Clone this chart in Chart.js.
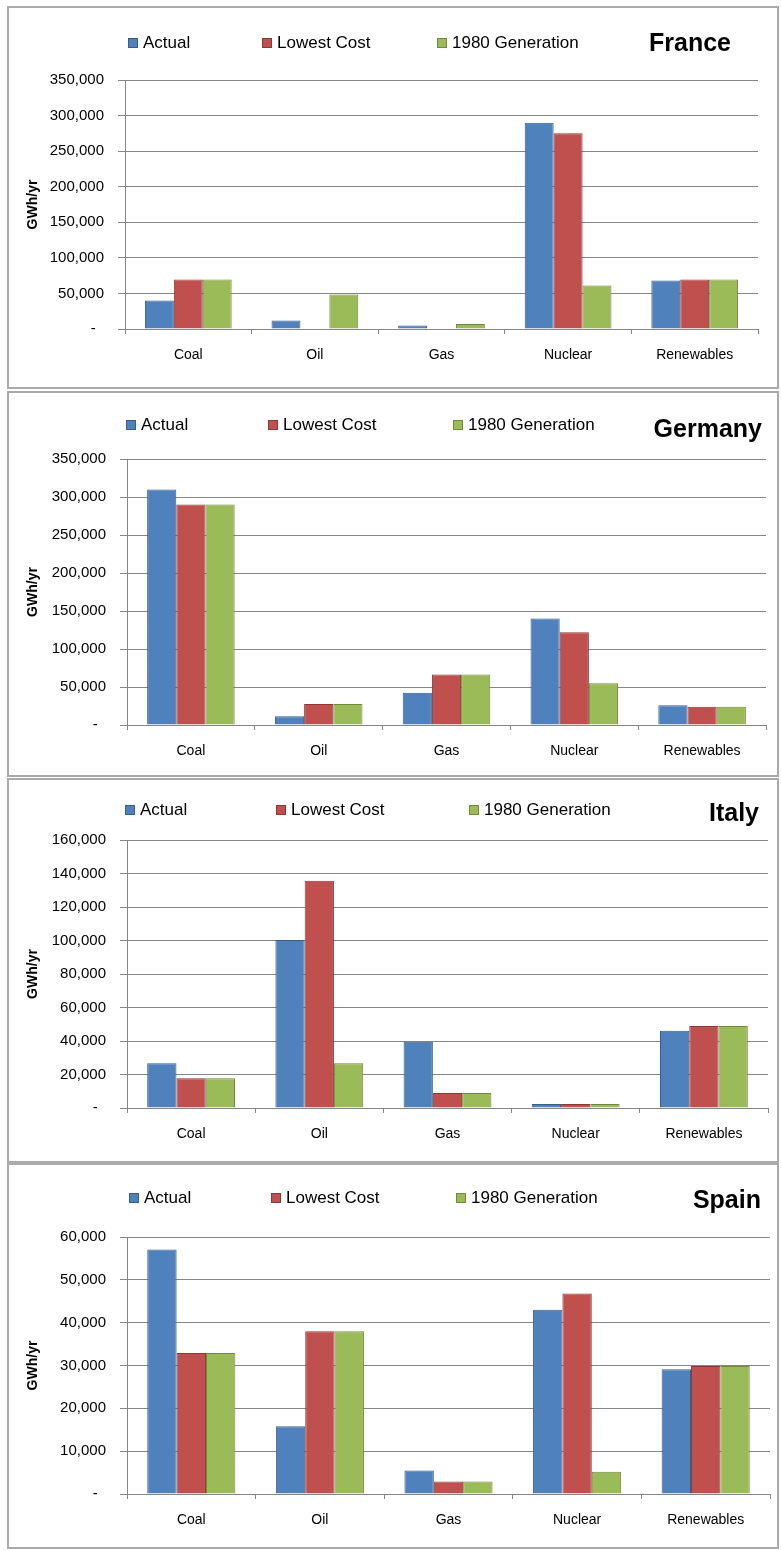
<!DOCTYPE html>
<html>
<head>
<meta charset="utf-8">
<script src="https://cdn.jsdelivr.net/npm/chart.js@4.4.1/dist/chart.umd.min.js"></script>
<style>
  html, body { margin: 0; padding: 0; background: #ffffff; overflow: hidden; }
  body { position: relative; width: 781px; height: 1551px; font-family: "Liberation Sans", Arial, sans-serif; }
  .panel { position: absolute; left: 7px; width: 772px; box-sizing: border-box; border: 2px solid #aaaaaa; background: #ffffff; }
  canvas.chart { position: absolute; }
  .legend-item { position: absolute; display: flex; align-items: center; transform: translateY(-50%); font-size: 17px; color: #000; white-space: nowrap; }
  .legend-box { width: 10px; height: 10px; box-sizing: border-box; border: 1px solid; margin-right: 5px; }
  .country-title { position: absolute; transform: translateY(-50%); font-size: 25px; font-weight: bold; color: #000; white-space: nowrap; }
</style>
</head>
<body>
<script>
// ---------------- DATA ----------------
const categories = ['Coal', 'Oil', 'Gas', 'Nuclear', 'Renewables'];
const seriesNames = ['Actual', 'Lowest Cost', '1980 Generation'];
const countryNames = ['France', 'Germany', 'Italy', 'Spain'];

const franceActual     = [40000, 12000, 5000, 290000, 68000];
const franceLowestCost = [69500, 0, 0, 275000, 69500];
const france1980       = [69500, 48500, 7000, 61000, 69500];

const germanyActual     = [310000, 11500, 42500, 140000, 26000];
const germanyLowestCost = [290000, 27500, 66500, 122000, 24000];
const germany1980       = [290000, 27500, 66500, 55000, 24000];

const italyActual     = [26700, 100300, 39600, 2400, 46100];
const italyLowestCost = [17800, 135700, 9000, 2400, 49000];
const italy1980       = [17800, 26700, 9000, 2400, 49000];

const spainActual     = [57100, 15800, 5500, 43000, 29100];
const spainLowestCost = [32900, 38000, 2900, 46800, 29900];
const spain1980       = [32900, 38000, 2900, 5200, 29900];

const yAxisMax  = [350000, 350000, 160000, 60000];
const yAxisStep = [50000, 50000, 20000, 10000];
const yAxisTitle = 'GWh/yr';
const zeroTickLabel = '-';

// ---------------- STYLE / LAYOUT ----------------
const seriesFill   = ['#4F81BD', '#C0504D', '#9BBB59'];
const seriesBorder = ['#385D8A', '#8C3836', '#71893F'];
const gridColor = '#868686';

const panelLayout = [
  { top: 6,    height: 383, axisX: 125, right: 758, plotTop: 80,   plotBottom: 329, legendY: 43,   legendX: [128, 262, 437], titleY: 42,   titleRight: 731 },
  { top: 391,  height: 386, axisX: 127, right: 766, plotTop: 459,  plotBottom: 725, legendY: 425,  legendX: [126, 268, 453], titleY: 428,  titleRight: 762 },
  { top: 778,  height: 385, axisX: 127, right: 768, plotTop: 840,  plotBottom: 1108, legendY: 810, legendX: [125, 276, 469], titleY: 812,  titleRight: 759 },
  { top: 1163, height: 386, axisX: 127, right: 770, plotTop: 1237, plotBottom: 1494, legendY: 1198, legendX: [129, 271, 456], titleY: 1199, titleRight: 761 }
];

const countrySeries = [
  [franceActual, franceLowestCost, france1980],
  [germanyActual, germanyLowestCost, germany1980],
  [italyActual, italyLowestCost, italy1980],
  [spainActual, spainLowestCost, spain1980]
];

Chart.defaults.font.family = '"Liberation Sans", Arial, sans-serif';
Chart.defaults.color = '#000';

countryNames.forEach((country, i) => {
  const L = panelLayout[i];

  const panel = document.createElement('div');
  panel.className = 'panel';
  panel.style.top = L.top + 'px';
  panel.style.height = L.height + 'px';
  document.body.appendChild(panel);

  const cvLeft = 9, cvTop = L.top + 2, cvW = 768, cvH = L.height - 4;
  const canvas = document.createElement('canvas');
  canvas.className = 'chart';
  canvas.width = cvW; canvas.height = cvH;
  canvas.style.left = cvLeft + 'px';
  canvas.style.top = cvTop + 'px';
  canvas.style.width = cvW + 'px';
  canvas.style.height = cvH + 'px';
  document.body.appendChild(canvas);

  const xAxisHeight = 40;

  const chart = new Chart(canvas, {
    type: 'bar',
    data: {
      labels: categories,
      datasets: seriesNames.map((name, k) => ({
        label: name,
        data: countrySeries[i][k],
        backgroundColor: seriesFill[k],
        borderColor: seriesBorder[k],
        borderWidth: 1
      }))
    },
    options: {
      responsive: false,
      animation: false,
      devicePixelRatio: 1,
      layout: {
        padding: {
          left: 0,
          right: (cvLeft + cvW) - L.right,
          top: L.plotTop - cvTop,
          bottom: (cvTop + cvH) - L.plotBottom - xAxisHeight
        }
      },
      datasets: { bar: { barPercentage: 1, categoryPercentage: 0.685 } },
      plugins: { legend: { display: false }, tooltip: { enabled: false } },
      scales: {
        x: {
          grid: { drawOnChartArea: false, drawTicks: true, tickLength: 5, color: gridColor, offset: true },
          border: { color: gridColor, width: 1 },
          ticks: { color: '#000', font: { size: 14 }, padding: 13, maxRotation: 0, autoSkip: false },
          afterFit: s => { s.height = xAxisHeight; }
        },
        y: {
          min: 0,
          max: yAxisMax[i],
          ticks: {
            stepSize: yAxisStep[i],
            color: '#000',
            font: { size: 15 },
            padding: 14,
            callback: v => v === 0 ? zeroTickLabel + '  ' : Number(v).toLocaleString('en-US')
          },
          grid: { color: gridColor, lineWidth: 1, tickLength: 7 },
          border: { color: gridColor, width: 1 },
          title: { display: true, text: yAxisTitle, color: '#000', font: { size: 14, weight: 'bold' }, padding: { top: 16, bottom: 0 } },
          afterFit: s => { s.width = L.axisX - cvLeft; }
        }
      }
    }
  });

  // HTML legend generated from the chart's own legend items
  const items = Chart.defaults.plugins.legend.labels.generateLabels(chart);
  items.forEach((it, k) => {
    const el = document.createElement('div');
    el.className = 'legend-item';
    el.style.left = L.legendX[k] + 'px';
    el.style.top = L.legendY + 'px';
    const box = document.createElement('span');
    box.className = 'legend-box';
    box.style.background = it.fillStyle;
    box.style.borderColor = it.strokeStyle;
    const txt = document.createElement('span');
    txt.textContent = it.text;
    el.appendChild(box); el.appendChild(txt);
    document.body.appendChild(el);
  });

  const title = document.createElement('div');
  title.className = 'country-title';
  title.textContent = country;
  title.style.right = (781 - L.titleRight) + 'px';
  title.style.top = L.titleY + 'px';
  document.body.appendChild(title);
});
</script>
</body>
</html>
